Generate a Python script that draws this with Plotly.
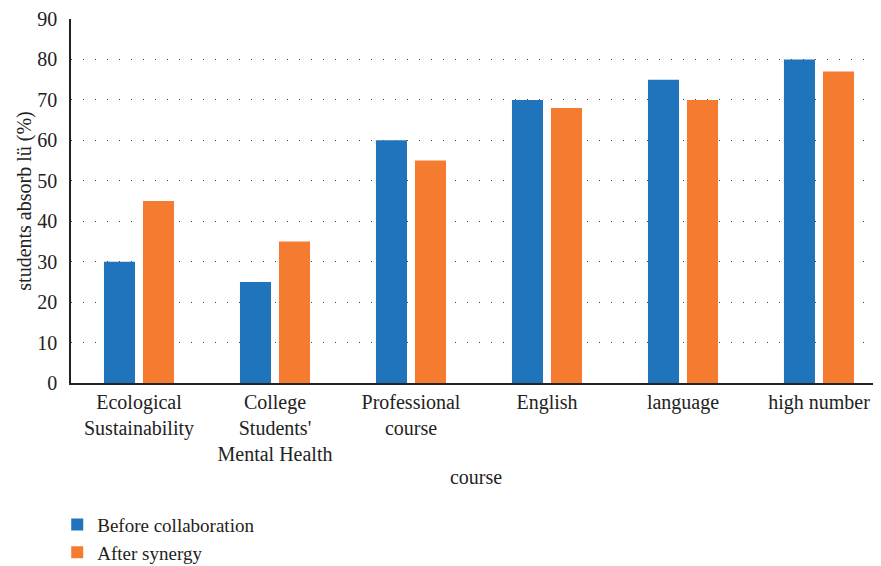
import plotly.graph_objects as go

categories = ["Ecological<br>Sustainability", "College<br>Students'<br>Mental Health",
              "Professional<br>course", "English", "language", "high number"]
before = [30, 25, 60, 70, 75, 80]
after = [45, 35, 55, 68, 70, 77]
y_ticks = [0, 10, 20, 30, 40, 50, 60, 70, 80, 90]

FONT = "Liberation Serif"
FS = 20
fig = go.Figure()
fig.add_trace(go.Bar(x=categories, y=before, name="Before collaboration",
                     marker=dict(color="#2074BC", line=dict(width=0))))
fig.add_trace(go.Bar(x=categories, y=after, name="After synergy",
                     marker=dict(color="#F47B30", line=dict(width=0))))

fig.update_layout(
    width=873, height=558,
    margin=dict(l=63, r=0, t=11, b=183, autoexpand=False),
    paper_bgcolor="white", plot_bgcolor="white",
    barmode="group", bargap=0.426, bargroupgap=0.205,
    font=dict(family=FONT, size=FS, color="#222222"),
    showlegend=True,
    legend=dict(orientation="v", x=-0.017, y=-0.337, xanchor="left", yanchor="top",
                font=dict(family=FONT, size=19, color="#222222"),
                itemwidth=30, tracegroupgap=0, bgcolor="rgba(0,0,0,0)"),
    xaxis=dict(range=[-0.5, 5.456], showline=True, linecolor="#222222", linewidth=1.5,
               ticks="", showgrid=False, tickfont=dict(family=FONT, size=FS),
               title=dict(text="course", standoff=6, font=dict(family=FONT, size=FS))),
    yaxis=dict(range=[0, 90], tickvals=y_ticks, showline=True, linecolor="#222222",
               linewidth=1.5, ticks="", showgrid=True, gridcolor="#444444",
               griddash="1px,11px", gridwidth=1, zeroline=False,
               ticklabelstandoff=8,
               tickfont=dict(family=FONT, size=FS),
               title=dict(text="students absorb lü (%)", standoff=0,
                          font=dict(family=FONT, size=FS))),
)
fig.write_html("out.html")
